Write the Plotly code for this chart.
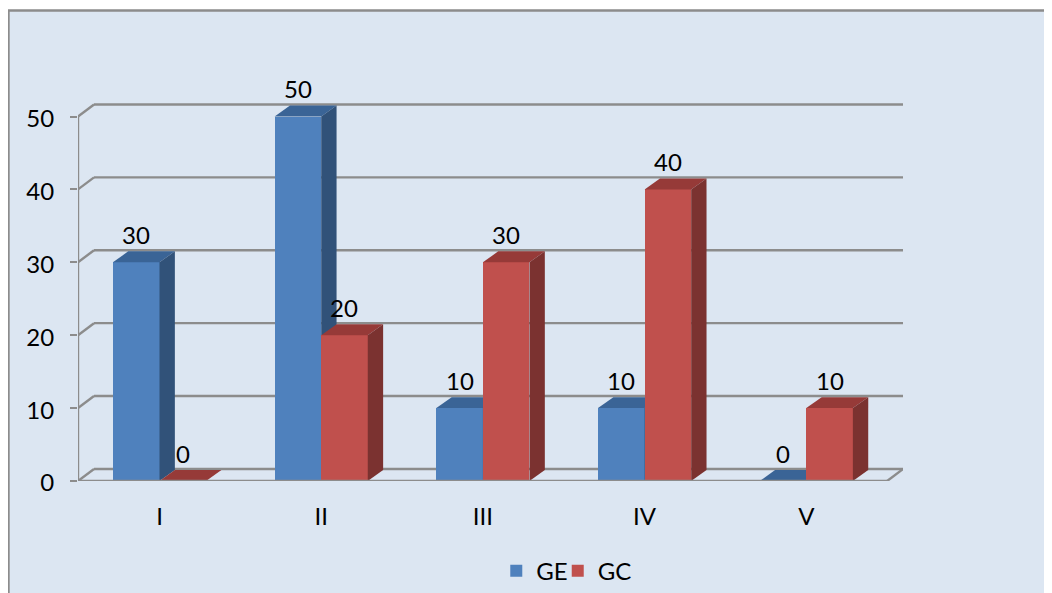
import plotly.graph_objects as go

categories = ["I", "II", "III", "IV", "V"]
ge_values = [30, 50, 10, 10, 0]
gc_values = [0, 20, 30, 40, 10]
y_ticks = [0, 10, 20, 30, 40, 50]

W, H = 1044, 585
ML, MR, MT, MB = 70, 149, 52, 112
PW, PH = W - ML - MR, H - MT - MB
X_RANGE = [-0.504, 4.598]
Y_RANGE = [0, 57.75]
X_FRONT_END = 4.5
WALL_DX, WALL_DY = 0.099, 1.65
BAR_DX, BAR_DY = 0.095, 1.5
BAR_W = 0.288
FONT = "Lato"
FS = 24
GRID = "#8C8C8C"
BG = "#DCE6F2"
STYLES = {
    "GE": ("#4F81BD", "#3A6496", "#315279"),
    "GC": ("#C0504D", "#963A38", "#7B3230"),
}

fig = go.Figure()


def add_series(name, values, offset, xa, ya, legend_id):
    front, top, side = STYLES[name]
    fig.add_trace(go.Bar(
        x=list(range(len(values))), y=values, name=name, width=BAR_W, offset=offset,
        marker=dict(color=front, line=dict(width=0)),
        xaxis=xa, yaxis=ya, hoverinfo="skip", legend=legend_id,
    ))
    for i, v in enumerate(values):
        x0, x1 = i + offset, i + offset + BAR_W
        fig.add_trace(go.Scatter(
            x=[x0, x1, x1 + BAR_DX, x0 + BAR_DX, x0],
            y=[v, v, v + BAR_DY, v + BAR_DY, v],
            mode="lines", fill="toself", fillcolor=top, line=dict(width=0, color=top),
            showlegend=False, hoverinfo="skip", xaxis=xa, yaxis=ya,
        ))
        if v > 0:
            fig.add_trace(go.Scatter(
                x=[x1, x1 + BAR_DX, x1 + BAR_DX, x1, x1],
                y=[0, BAR_DY, v + BAR_DY, v, 0],
                mode="lines", fill="toself", fillcolor=side, line=dict(width=0, color=side),
                showlegend=False, hoverinfo="skip", xaxis=xa, yaxis=ya,
            ))
        fig.add_annotation(
            x=x0 + BAR_W / 2, y=v, xref=xa, yref=ya, text=str(v), showarrow=False,
            yshift=28, font=dict(family=FONT, size=FS, color="#000000"),
        )


add_series("GE", ge_values, -BAR_W, "x", "y", "legend")
add_series("GC", gc_values, 0.0, "x2", "y2", "legend2")

line = dict(color=GRID, width=2.4)
x_left, x_right = X_RANGE[0], X_FRONT_END

# chart frame, expressed in paper fractions from figure pixels
fig.add_shape(
    type="rect", xref="paper", yref="paper", layer="below",
    x0=(0.5 - ML) / PW, x1=(W + 20 - ML) / PW,
    y0=1 - (H + 20 - MT) / PH, y1=1 - (2.5 - MT) / PH,
    fillcolor=BG, line=line,
)
# back-wall gridlines and their diagonals
for t in y_ticks:
    fig.add_shape(type="line", xref="x", yref="y", layer="below",
                  x0=x_left + WALL_DX, x1=x_right + WALL_DX,
                  y0=t + WALL_DY, y1=t + WALL_DY, line=line)
    fig.add_shape(type="line", xref="x", yref="y", layer="below",
                  x0=x_left, x1=x_left + WALL_DX, y0=t, y1=t + WALL_DY, line=line)
# floor right edge, value axis, category axis and category ticks
fig.add_shape(type="line", xref="x", yref="y", layer="below",
              x0=x_right, x1=x_right + WALL_DX, y0=0, y1=WALL_DY, line=line)
fig.add_shape(type="line", xref="x", yref="y", layer="below",
              x0=x_left, x1=x_left, y0=0, y1=y_ticks[-1], line=line)
fig.add_shape(type="line", xref="x", yref="y", layer="above",
              x0=x_left, x1=x_right, y0=0, y1=0, line=line)
for i in range(len(categories) + 1):
    fig.add_shape(type="line", xref="x", yref="y", layer="below",
                  x0=i - 0.5 if i else x_left, x1=i - 0.5 if i else x_left,
                  y0=0, y1=-1.0, line=line)

legend_common = dict(orientation="h", y=-0.214, xanchor="left", yanchor="middle",
                     xref="paper", yref="paper", bgcolor="rgba(0,0,0,0)", borderwidth=0,
                     itemwidth=30, font=dict(family=FONT, size=FS))

fig.update_layout(
    width=W, height=H, autosize=False,
    margin=dict(l=ML, r=MR, t=MT, b=MB, pad=0, autoexpand=False),
    paper_bgcolor="#FFFFFF", plot_bgcolor="rgba(0,0,0,0)",
    barmode="overlay", bargap=0,
    font=dict(family=FONT, size=FS, color="#000000"),
    showlegend=True,
    legend=dict(x=0.507, **legend_common),
    legend2=dict(x=0.5815, **legend_common),
    xaxis=dict(range=X_RANGE, tickmode="array", tickvals=list(range(len(categories))),
               ticktext=categories, showgrid=False, zeroline=False, showline=False,
               ticks="", ticklabelstandoff=19, fixedrange=True),
    yaxis=dict(range=Y_RANGE, tickmode="array", tickvals=y_ticks, showgrid=False,
               zeroline=False, showline=False, ticks="outside", ticklen=7, tickwidth=2.4,
               tickcolor=GRID, ticklabelstandoff=11, ticklabelshift=2, fixedrange=True),
    xaxis2=dict(range=X_RANGE, overlaying="x", visible=False, fixedrange=True),
    yaxis2=dict(range=Y_RANGE, overlaying="y", visible=False, fixedrange=True),
)

fig.write_html("out.html")
